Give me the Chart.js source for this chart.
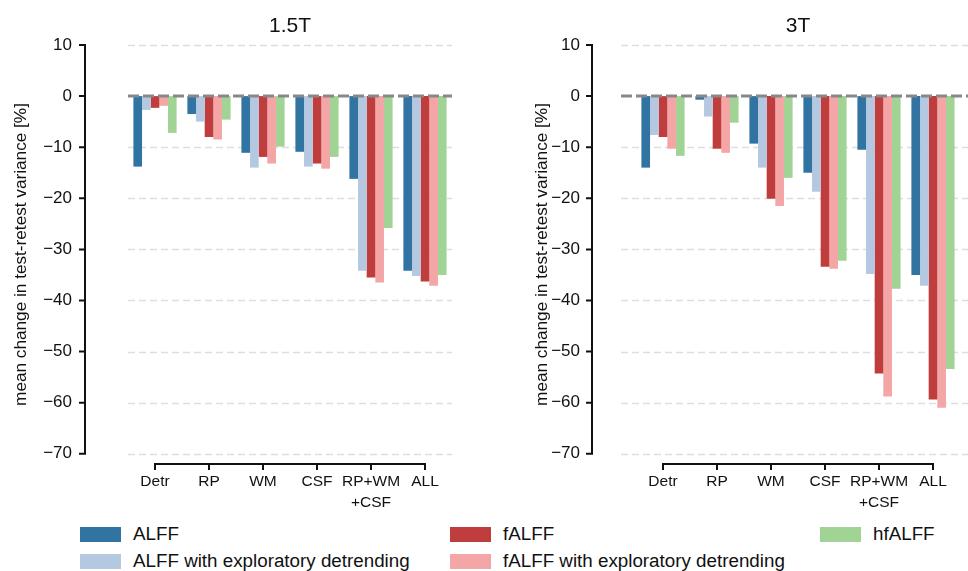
<!DOCTYPE html>
<html>
<head>
<meta charset="utf-8">
<script src="https://cdn.jsdelivr.net/npm/chart.js@4"></script>
<style>
  body { margin: 0; background: #fff; width: 968px; height: 571px; position: relative; overflow: hidden;
         font-family: "Liberation Sans", Arial, sans-serif; color: #111; }
  canvas { position: absolute; top: 0; }
  #left { left: 0; }
  #right { left: 480px; }
  .item { position: absolute; height: 16px; display: flex; align-items: center; font-size: 18.8px; white-space: nowrap; }
  .item .box { width: 41px; height: 15px; margin-right: 12px; flex: none; }
</style>
</head>
<body>
<canvas id="left" width="480" height="515"></canvas>
<canvas id="right" width="488" height="515"></canvas>
<div id="legend"></div>
<script>
const categories = ['Detr', 'RP', 'WM', 'CSF', ['RP+WM', '+CSF'], 'ALL'];
const seriesNames = ['ALFF', 'ALFF with exploratory detrending', 'fALFF', 'fALFF with exploratory detrending', 'hfALFF'];
const seriesColors = ['#3274a1', '#b4c8e2', '#c03d3e', '#f3a6a5', '#a1d494'];

// 1.5T
const alff15 = [-13.8, -3.5, -11.1, -10.9, -16.2, -34.2];
const alffExp15 = [-2.7, -5.0, -14.0, -13.8, -34.2, -35.2];
const falff15 = [-2.3, -8.0, -11.9, -13.2, -35.5, -36.3];
const falffExp15 = [-1.9, -8.5, -13.2, -14.2, -36.5, -37.1];
const hfalff15 = [-7.2, -4.6, -9.9, -11.9, -25.8, -35.0];

// 3T
const alff3 = [-14.0, -0.7, -9.3, -15.0, -10.5, -35.0];
const alffExp3 = [-7.6, -4.0, -14.0, -18.7, -34.8, -37.1];
const falff3 = [-8.0, -10.3, -20.1, -33.4, -54.3, -59.4];
const falffExp3 = [-10.3, -11.1, -21.5, -33.8, -58.8, -61.0];
const hfalff3 = [-11.7, -5.2, -16.0, -32.2, -37.7, -53.4];

const yMin = -72, yMax = 10, yStep = 10;
const FONT = '"Liberation Sans", Arial, sans-serif';

// panel title, dashed grid, zero line and offset / trimmed spines
const decor = {
    id: 'decor',
    beforeDatasetsDraw(chart, args, opts) {
        const ctx = chart.ctx, y = chart.scales.y, area = chart.chartArea;
        ctx.save();
        ctx.fillStyle = '#111';
        ctx.font = '21px ' + FONT;
        ctx.textAlign = 'center';
        ctx.textBaseline = 'middle';
        ctx.fillText(opts.title, (area.left + area.right) / 2, 26.5);

        ctx.setLineDash([7, 4]);
        ctx.strokeStyle = '#dedede';
        ctx.lineWidth = 1.3;
        y.ticks.forEach(t => {
            if (t.value === 0) return;
            const py = Math.round(y.getPixelForValue(t.value)) + 0.5;
            ctx.beginPath();
            ctx.moveTo(opts.gridLeft, py);
            ctx.lineTo(opts.gridRight, py);
            ctx.stroke();
        });
        ctx.restore();
    },
    afterDatasetsDraw(chart, args, opts) {
        const ctx = chart.ctx, y = chart.scales.y, x = chart.scales.x;
        ctx.save();
        // zero line
        ctx.setLineDash([11, 4]);
        ctx.strokeStyle = '#888888';
        ctx.lineWidth = 3;
        const p0 = y.getPixelForValue(0);
        ctx.beginPath();
        ctx.moveTo(opts.gridLeft, p0);
        ctx.lineTo(opts.gridRight, p0);
        ctx.stroke();

        ctx.setLineDash([]);
        ctx.strokeStyle = '#111';
        ctx.lineWidth = 2;
        // y spine
        const top = y.getPixelForValue(y.ticks[y.ticks.length - 1].value);
        const bot = y.getPixelForValue(y.ticks[0].value);
        ctx.beginPath();
        ctx.moveTo(opts.spineX, top - 1);
        ctx.lineTo(opts.spineX, bot + 1);
        y.ticks.forEach(t => {
            const py = y.getPixelForValue(t.value);
            ctx.moveTo(opts.spineX, py);
            ctx.lineTo(opts.spineX - 6, py);
        });
        ctx.stroke();
        // x spine
        const xb = chart.chartArea.bottom;
        const x0 = x.getPixelForValue(0), x1 = x.getPixelForValue(categories.length - 1);
        ctx.beginPath();
        ctx.moveTo(x0 - 1, xb);
        ctx.lineTo(x1 + 1, xb);
        categories.forEach((c, i) => {
            const px = x.getPixelForValue(i);
            ctx.moveTo(px, xb);
            ctx.lineTo(px, xb + 6);
        });
        ctx.stroke();
        ctx.restore();
    }
};

function makePanel(id, series, axisWidth, padRight, titlePad, decorOpts) {
    new Chart(document.getElementById(id), {
        type: 'bar',
        data: {
            labels: categories,
            datasets: series.map((d, i) => ({
                label: seriesNames[i],
                data: d,
                backgroundColor: seriesColors[i],
                borderWidth: 0,
                categoryPercentage: 0.8,
                barPercentage: 1.0
            }))
        },
        options: {
            responsive: false,
            animation: false,
            layout: { padding: { left: 0, top: 45, right: padRight, bottom: 0 } },
            plugins: {
                legend: { display: false },
                tooltip: { enabled: false },
                decor: decorOpts
            },
            scales: {
                x: {
                    grid: { display: false, drawTicks: true, tickLength: 5 },
                    border: { display: false },
                    ticks: {
                        autoSkip: false, maxRotation: 0, padding: 3, color: '#111',
                        font: { family: FONT, size: 15.5, lineHeight: 1.3 }
                    },
                    afterFit(s) { s.height = 51; }
                },
                y: {
                    min: yMin,
                    max: yMax,
                    grid: { display: false, drawTicks: true, tickLength: 43 },
                    border: { display: false },
                    ticks: {
                        stepSize: yStep, includeBounds: false, padding: 13, color: '#111',
                        font: { family: FONT, size: 17 },
                        callback: v => v < 0 ? '\u2212' + Math.abs(v) : String(v)
                    },
                    title: {
                        display: true,
                        text: 'mean change in test-retest variance [%]',
                        color: '#111',
                        font: { family: FONT, size: 17.2, lineHeight: 1.2 },
                        padding: { top: titlePad, bottom: 0 }
                    },
                    afterFit(s) { s.width = axisWidth; }
                }
            }
        },
        plugins: [decor]
    });
}

makePanel('left', [alff15, alffExp15, falff15, falffExp15, hfalff15], 128, 28, 10.5,
    { title: '1.5T', gridLeft: 128, gridRight: 452, spineX: 85 });
makePanel('right', [alff3, alffExp3, falff3, falffExp3, hfalff3], 156, 8, 51.5,
    { title: '3T', gridLeft: 141, gridRight: 488, spineX: 112 });

// legend (column-major, 3 columns)
const legendPos = [[80, 526], [80, 553], [450, 526], [450, 553], [820, 526]];
const legend = document.getElementById('legend');
seriesNames.forEach((name, i) => {
    const el = document.createElement('div');
    el.className = 'item';
    el.style.left = legendPos[i][0] + 'px';
    el.style.top = legendPos[i][1] + 'px';
    el.innerHTML = '<span class="box" style="background:' + seriesColors[i] + '"></span><span>' + name + '</span>';
    legend.appendChild(el);
});
</script>
</body>
</html>
